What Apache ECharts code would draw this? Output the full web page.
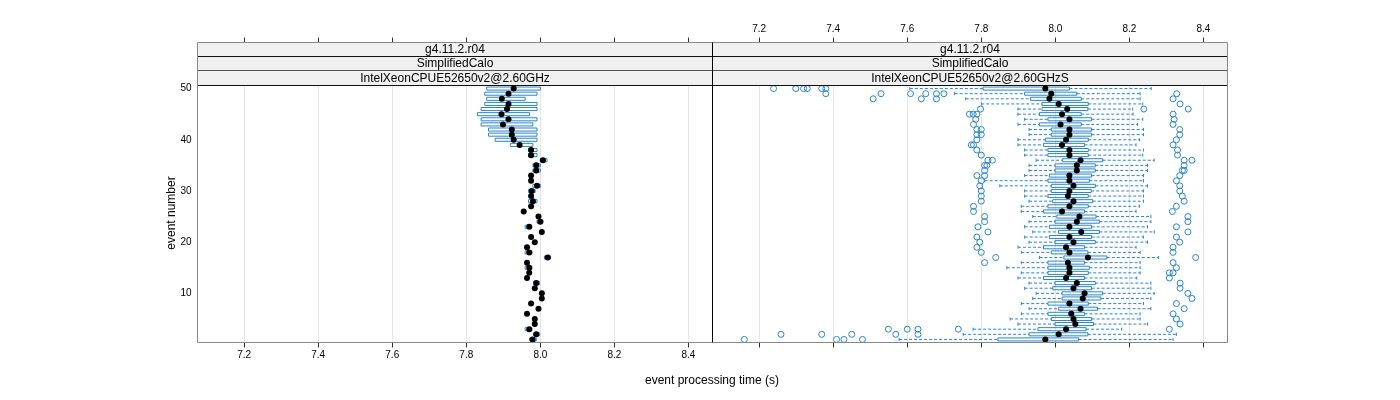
<!DOCTYPE html>
<html>
<head>
<meta charset="utf-8">
<script src="https://cdn.jsdelivr.net/npm/echarts@6/dist/echarts.min.js"></script>
<style>
  html, body { margin: 0; padding: 0; background: #fff; }
  #chart { width: 1400px; height: 400px; }
</style>
</head>
<body>
<div id="chart"></div>
<script>
const events = [1, 2, 3, 4, 5, 6, 7, 8, 9, 10, 11, 12, 13, 14, 15, 16, 17, 18, 19, 20,
  21, 22, 23, 24, 25, 26, 27, 28, 29, 30, 31, 32, 33, 34, 35, 36, 37, 38, 39, 40,
  41, 42, 43, 44, 45, 46, 47, 48, 49, 50];
const xTicks = [7.2, 7.4, 7.6, 7.8, 8.0, 8.2, 8.4];
const yTicks = [10, 20, 30, 40, 50];
const stripTop = "g4.11.2.r04";
const stripMid = "SimplifiedCalo";
const panelNames = ["IntelXeonCPUE52650v2@2.60GHz", "IntelXeonCPUE52650v2@2.60GHzS"];

// left panel: quartiles and medians per event (whiskers sit on the box)
const leftQ1 = [7.971, 7.982, 7.959, 7.982, 7.982, 7.961, 7.992, 7.972, 8.001, 8.001,
  7.982, 7.982, 7.961, 7.967, 7.959, 7.961, 8.011, 7.959, 7.961, 7.982,
  7.972, 8.001, 7.959, 7.991, 7.992, 7.952, 7.972, 7.968, 7.972, 7.968,
  7.980, 7.972, 7.972, 7.980, 7.980, 8.000, 7.968, 7.968, 7.919, 7.878,
  7.860, 7.860, 7.840, 7.840, 7.830, 7.840, 7.850, 7.855, 7.850, 7.855];
const leftMed = [7.979, 7.989, 7.970, 7.985, 7.985, 7.964, 7.995, 7.975, 8.004, 8.004,
  7.985, 7.989, 7.964, 7.970, 7.970, 7.964, 8.020, 7.970, 7.964, 7.985,
  7.975, 8.004, 7.970, 8.000, 7.995, 7.955, 7.975, 7.980, 7.975, 7.977,
  7.991, 7.975, 7.975, 7.989, 7.989, 8.007, 7.975, 7.975, 7.944, 7.928,
  7.923, 7.923, 7.899, 7.914, 7.895, 7.910, 7.914, 7.896, 7.914, 7.928];
const leftQ3 = [7.989, 7.998, 7.977, 7.988, 7.988, 7.967, 7.998, 7.978, 8.007, 8.007,
  7.988, 7.998, 7.967, 7.973, 7.977, 7.967, 8.027, 7.977, 7.967, 7.988,
  7.978, 8.007, 7.977, 8.007, 7.998, 7.958, 7.978, 7.991, 7.978, 7.986,
  8.000, 7.978, 7.978, 8.000, 8.000, 8.018, 7.991, 7.991, 7.980, 7.991,
  7.991, 7.991, 7.980, 7.991, 7.971, 7.991, 7.991, 7.959, 7.991, 8.000];

// right panel: whisker ends, quartiles, medians per event
const rightLo = [7.578, 7.751, 7.778, 7.899, 7.878, 7.908, 7.929, 7.908, 7.939, 7.948,
  7.917, 7.929, 7.899, 7.908, 7.869, 7.908, 7.957, 7.908, 7.899, 7.929,
  7.917, 7.939, 7.917, 7.929, 7.939, 7.908, 7.908, 7.929, 7.917, 7.917,
  7.850, 7.809, 7.917, 7.929, 7.929, 7.948, 7.917, 7.917, 7.899, 7.899,
  7.929, 7.929, 7.899, 7.917, 7.899, 7.899, 7.800, 7.758, 7.728, 7.607];
const rightQ1 = [7.845, 7.929, 7.953, 7.999, 7.989, 7.980, 8.009, 7.980, 8.018, 8.018,
  7.993, 7.999, 7.968, 7.980, 7.980, 7.980, 8.023, 7.989, 7.968, 7.999,
  7.984, 8.009, 7.984, 7.999, 8.004, 7.968, 7.980, 7.993, 7.980, 7.989,
  7.989, 7.980, 7.984, 7.999, 7.999, 8.020, 7.980, 7.980, 7.968, 7.973,
  7.989, 7.989, 7.957, 7.980, 7.957, 7.964, 7.964, 7.933, 7.917, 7.805];
const rightMed = [7.973, 8.009, 8.029, 8.054, 8.049, 8.043, 8.068, 8.038, 8.074, 8.079,
  8.049, 8.058, 8.029, 8.038, 8.038, 8.034, 8.088, 8.038, 8.029, 8.049,
  8.038, 8.070, 8.038, 8.058, 8.065, 8.018, 8.038, 8.049, 8.034, 8.038,
  8.049, 8.038, 8.038, 8.058, 8.058, 8.068, 8.038, 8.038, 8.018, 8.029,
  8.038, 8.038, 8.014, 8.038, 8.018, 8.032, 8.009, 7.984, 7.989, 7.973];
const rightQ3 = [8.063, 8.088, 8.083, 8.103, 8.098, 8.079, 8.114, 8.089, 8.123, 8.128,
  8.098, 8.108, 8.079, 8.089, 8.092, 8.079, 8.139, 8.088, 8.079, 8.108,
  8.098, 8.119, 8.098, 8.119, 8.110, 8.079, 8.089, 8.101, 8.089, 8.097,
  8.108, 8.092, 8.098, 8.108, 8.108, 8.128, 8.089, 8.089, 8.079, 8.089,
  8.098, 8.098, 8.070, 8.098, 8.070, 8.088, 8.089, 8.070, 8.058, 8.038];
const rightHi = [8.318, 8.327, 8.179, 8.249, 8.229, 8.229, 8.258, 8.238, 8.258, 8.267,
  8.258, 8.258, 8.220, 8.229, 8.229, 8.229, 8.279, 8.229, 8.218, 8.249,
  8.238, 8.267, 8.249, 8.258, 8.258, 8.218, 8.227, 8.238, 8.238, 8.238,
  8.249, 8.238, 8.238, 8.249, 8.249, 8.267, 8.236, 8.238, 8.218, 8.227,
  8.238, 8.238, 8.222, 8.236, 8.210, 8.209, 8.236, 8.229, 8.229, 8.259];

// right panel outliers: [time, event]
const rightOutliers = [
  [7.160, 1], [7.409, 1], [7.429, 1], [7.479, 1],
  [7.259, 2], [7.369, 2], [7.450, 2], [7.569, 2], [7.629, 2],
  [7.549, 3], [7.600, 3], [7.629, 3], [7.738, 3], [8.308, 3],
  [8.337, 4], [8.327, 5], [8.318, 6], [8.348, 7], [8.327, 8], [8.369, 9], [8.358, 10],
  [8.337, 11], [8.337, 12], [8.308, 13], [8.318, 14], [8.308, 14], [8.327, 15],
  [7.809, 16], [8.318, 16], [7.839, 17], [8.379, 17], [7.800, 18], [8.318, 18],
  [7.788, 19], [8.318, 19], [7.796, 20], [8.336, 20], [7.788, 21], [8.327, 21],
  [7.818, 22], [8.358, 22], [7.791, 23], [8.327, 23], [7.809, 24], [8.358, 24],
  [7.809, 25], [8.358, 25], [7.779, 26], [8.316, 26], [7.779, 27], [8.327, 27],
  [7.800, 28], [8.348, 28], [7.800, 29], [8.343, 29], [7.800, 30], [8.336, 30],
  [7.796, 31], [8.336, 31], [7.800, 32], [8.327, 32], [7.788, 33], [7.809, 33], [8.336, 33],
  [7.809, 34], [8.343, 34], [8.348, 34], [7.809, 35], [7.815, 35], [8.348, 35],
  [7.818, 36], [7.830, 36], [8.348, 36], [8.369, 36], [7.800, 37], [8.330, 37],
  [7.788, 38], [8.330, 38], [7.773, 39], [7.779, 39], [8.318, 39], [7.788, 40], [8.327, 40],
  [7.788, 41], [7.800, 41], [8.336, 41], [7.788, 42], [7.800, 42], [8.336, 42],
  [7.779, 43], [8.318, 43], [7.785, 44], [8.321, 44],
  [7.768, 45], [7.778, 45], [7.788, 45], [8.318, 45], [7.798, 46], [8.239, 46], [8.359, 46],
  [8.337, 47], [7.508, 48], [7.638, 48], [7.679, 48], [8.318, 48],
  [7.380, 49], [7.529, 49], [7.609, 49], [7.650, 49], [7.679, 49], [7.699, 49], [8.328, 49],
  [7.239, 50], [7.299, 50], [7.320, 50], [7.330, 50], [7.369, 50], [7.380, 50]
];

const boxColor = "#2a86cc";
const xMin = 7.074;
const xMax = 8.465;
const font = "Liberation Sans, Arial, sans-serif";

function renderBox(params, api) {
  const ev = api.value(0);
  const pLo = api.coord([api.value(1), ev]);
  const pQ1 = api.coord([api.value(2), ev]);
  const pQ3 = api.coord([api.value(4), ev]);
  const pHi = api.coord([api.value(5), ev]);
  const h = api.size([0, 0.6])[1];
  const y = pQ1[1];
  const solid = { stroke: boxColor, lineWidth: 1, fill: "none" };
  const dashed = { stroke: boxColor, lineWidth: 1, lineDash: [3, 2], fill: "none" };
  const children = [];
  if (pLo[0] < pQ1[0] - 0.5) {
    children.push({ type: "line", shape: { x1: pLo[0], y1: y, x2: pQ1[0], y2: y }, style: dashed });
    children.push({ type: "line", shape: { x1: pLo[0], y1: y - h / 2, x2: pLo[0], y2: y + h / 2 }, style: solid });
  }
  if (pHi[0] > pQ3[0] + 0.5) {
    children.push({ type: "line", shape: { x1: pQ3[0], y1: y, x2: pHi[0], y2: y }, style: dashed });
    children.push({ type: "line", shape: { x1: pHi[0], y1: y - h / 2, x2: pHi[0], y2: y + h / 2 }, style: solid });
  }
  children.push({
    type: "rect",
    shape: { x: pQ1[0], y: y - h / 2, width: Math.max(pQ3[0] - pQ1[0], 1), height: h },
    style: solid,
  });
  return { type: "group", children };
}

function xAxisDef(grid, position, labels) {
  return {
    type: "value",
    gridIndex: grid,
    position,
    offset: position === "top" ? 43 : 0,
    min: xMin,
    max: xMax,
    axisLine: { show: false },
    axisTick: { show: true, customValues: xTicks, length: 5, lineStyle: { color: "#333" } },
    axisLabel: {
      show: labels,
      customValues: xTicks,
      formatter: (v) => v.toFixed(1),
      fontSize: 10,
      fontFamily: font,
      color: "#000",
      margin: 8,
    },
    splitLine: { show: position === "bottom", lineStyle: { color: "#e6e6e6", width: 1 } },
  };
}

function yAxisDef(grid, labels) {
  return {
    type: "value",
    gridIndex: grid,
    min: 0.4,
    max: 50.6,
    axisLine: { show: false },
    axisTick: { show: false },
    axisLabel: {
      show: labels,
      customValues: yTicks,
      fontSize: 10,
      fontFamily: font,
      color: "#000",
      margin: 6,
    },
    splitLine: { show: false },
  };
}

const panelX = [197.5, 712.5];
const panelW = 515;
const stripY = [42.5, 56.5, 70.5, 85.5];
const graphics = [];
panelX.forEach((x0, p) => {
  const labels = [stripTop, stripMid, panelNames[p]];
  for (let i = 0; i < 3; i++) {
    graphics.push({
      type: "rect",
      shape: { x: x0, y: stripY[i], width: panelW, height: stripY[i + 1] - stripY[i] },
      style: { fill: "#f0f0f0", stroke: null },
      z: 10,
    });
    graphics.push({
      type: "text",
      x: x0 + panelW / 2,
      y: (stripY[i] + stripY[i + 1]) / 2 + 0.5,
      style: { text: labels[i], fill: "#000", font: "12px " + font, align: "center", verticalAlign: "middle" },
      z: 12,
    });
  }
  for (let i = 1; i < 4; i++) {
    graphics.push({
      type: "line",
      shape: { x1: x0, y1: stripY[i], x2: x0 + panelW, y2: stripY[i] },
      style: { stroke: i === 2 ? "#555" : "#111", lineWidth: 1 },
      z: 13,
    });
  }
});
graphics.push({
  type: "rect",
  shape: { x: 197.5, y: 42.5, width: 1030, height: 300 },
  style: { fill: null, stroke: "#888", lineWidth: 1 },
  z: 14,
});
graphics.push({
  type: "line",
  shape: { x1: 712.5, y1: 42.5, x2: 712.5, y2: 342.5 },
  style: { stroke: "#000", lineWidth: 1 },
  z: 15,
});
graphics.push({
  type: "text",
  x: 712,
  y: 381,
  style: { text: "event processing time (s)", fill: "#000", font: "12px " + font, align: "center", verticalAlign: "middle" },
});
graphics.push({
  type: "text",
  x: 172,
  y: 213,
  rotation: Math.PI / 2,
  style: { text: "event number", fill: "#000", font: "12px " + font, align: "center", verticalAlign: "middle" },
});

const chart = echarts.init(document.getElementById("chart"), null, { renderer: "canvas" });
chart.setOption({
  animation: false,
  backgroundColor: "#fff",
  grid: [
    { left: 197.5, top: 85.5, width: 515, height: 257 },
    { left: 712.5, top: 85.5, width: 515, height: 257 },
  ],
  xAxis: [
    xAxisDef(0, "bottom", true),
    xAxisDef(0, "top", false),
    xAxisDef(1, "top", true),
    xAxisDef(1, "bottom", false),
  ],
  yAxis: [yAxisDef(0, true), yAxisDef(1, false)],
  graphic: graphics,
  series: [
    {
      type: "custom",
      xAxisIndex: 0,
      yAxisIndex: 0,
      renderItem: renderBox,
      encode: { x: [1, 2, 3, 4, 5], y: 0 },
      data: events.map((e, i) => [e, leftQ1[i], leftQ1[i], leftMed[i], leftQ3[i], leftQ3[i]]),
      silent: true,
      z: 3,
    },
    {
      type: "scatter",
      xAxisIndex: 0,
      yAxisIndex: 0,
      symbol: "circle",
      symbolSize: 6,
      itemStyle: { color: "#000", opacity: 1 },
      data: events.map((e, i) => [leftMed[i], e]),
      silent: true,
      z: 4,
    },
    {
      type: "custom",
      xAxisIndex: 2,
      yAxisIndex: 1,
      renderItem: renderBox,
      encode: { x: [1, 2, 3, 4, 5], y: 0 },
      data: events.map((e, i) => [e, rightLo[i], rightQ1[i], rightMed[i], rightQ3[i], rightHi[i]]),
      silent: true,
      z: 3,
    },
    {
      type: "scatter",
      xAxisIndex: 2,
      yAxisIndex: 1,
      symbol: "circle",
      symbolSize: 6,
      itemStyle: { color: "#000", opacity: 1 },
      data: events.map((e, i) => [rightMed[i], e]),
      silent: true,
      z: 4,
    },
    {
      type: "scatter",
      xAxisIndex: 2,
      yAxisIndex: 1,
      symbol: "circle",
      symbolSize: 6,
      itemStyle: { color: "rgba(0,0,0,0)", borderColor: boxColor, borderWidth: 1, opacity: 1 },
      data: rightOutliers,
      silent: true,
      z: 4,
    },
  ],
});
</script>
</body>
</html>
